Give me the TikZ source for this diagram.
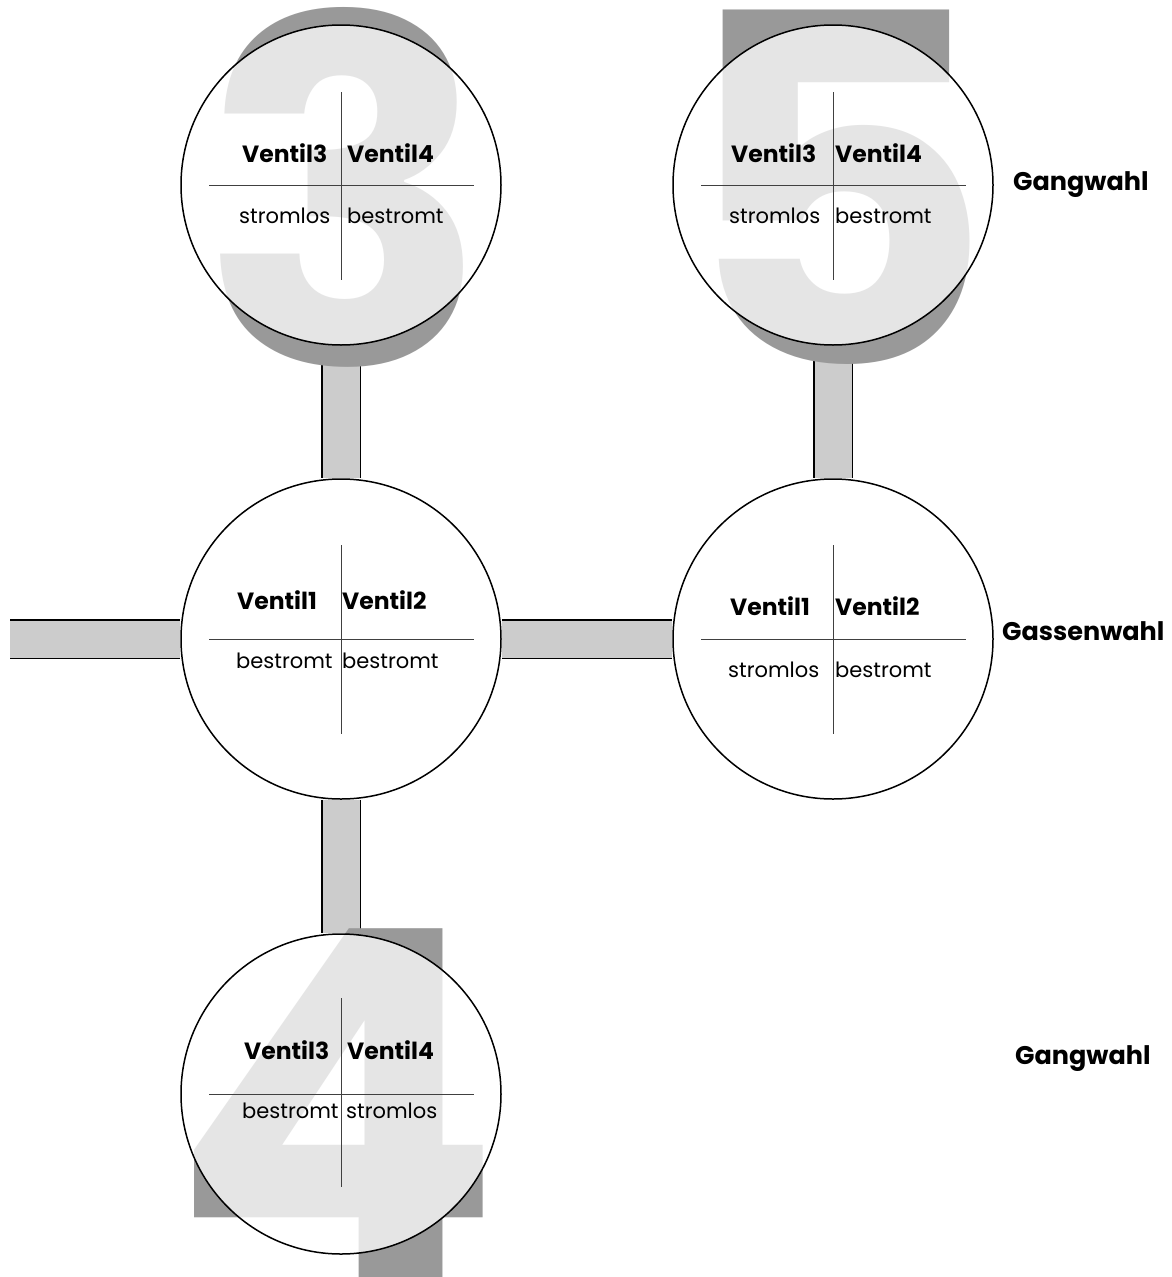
\documentclass[tikz,border=0pt]{standalone}
\usepackage{fontspec}
\setmainfont{Poppins}
\usetikzlibrary{positioning,backgrounds}
\definecolor{shaftgray}{HTML}{CCCCCC}
\definecolor{gearnumgray}{HTML}{999999}

\begin{document}
\begin{tikzpicture}[x=1pt, y=-1pt,
    valve/.style={circle, draw, line width=1.5pt, fill=white, fill opacity=0.75, minimum size=320pt, inner sep=0pt},
    shaft/.style={draw=black, line width=1.2pt, double=shaftgray, double distance=37pt},
    crossline/.style={draw=black!75, line width=0.9pt},
    valvestate/.style={font=\fontsize{21}{25}\selectfont, anchor=base west, inner sep=0pt},
    valvename/.style={font=\bfseries\fontsize{23.5}{27}\selectfont, anchor=base west, inner sep=0pt},
    modelabel/.style={font=\bfseries\fontsize{25.5}{29}\selectfont, anchor=base west, inner sep=0pt},
    gearnum/.style={text=gearnumgray, anchor=base, inner sep=0pt}]

    \useasboundingbox (0,0) rectangle (1172,1277);

    % gear positions
    \node[valve] (gang3) at (341,185) {};
    \node[valve] (gang5) at (833,185) {};
    \node[valve] (gasseL) at (341,639) {};
    \node[valve] (gasseR) at (833,639) {};
    \node[valve] (gang4) at (341,1094) {};
    \coordinate (stub) at (10,639);

    \begin{scope}[on background layer]
        \fill[white] (0,0) rectangle (1172,1277);
        \draw[shaft] (stub) -- (gasseL.west);
        \draw[shaft] (gasseL.east) -- (gasseR.west);
        \draw[shaft] (gang3.south) -- (gasseL.north);
        \draw[shaft] (gang5.south) -- (gasseR.north);
        \draw[shaft] (gasseL.south) -- (gang4.north);
        \node[gearnum, font=\bfseries\fontsize{478}{478}\selectfont] (num3) at (345,364) {3};
        \node[gearnum, font=\bfseries\fontsize{485}{485}\selectfont] (num5) at (836,364) {5};
        \node[gearnum, font=\bfseries\fontsize{490}{490}\selectfont] (num4) at (336,1281) {4};
    \end{scope}

    % cross lines
    \draw[crossline] ([xshift=-132pt]gang3.center) -- ([xshift=133pt]gang3.center);
    \draw[crossline] ([yshift=93pt]gang3.center) -- ([yshift=-95pt]gang3.center);
    \draw[crossline] ([xshift=-132pt]gang5.center) -- ([xshift=133pt]gang5.center);
    \draw[crossline] ([yshift=93pt]gang5.center) -- ([yshift=-95pt]gang5.center);
    \draw[crossline] ([xshift=-132pt]gasseL.center) -- ([xshift=133pt]gasseL.center);
    \draw[crossline] ([yshift=94pt]gasseL.center) -- ([yshift=-95pt]gasseL.center);
    \draw[crossline] ([xshift=-132pt]gasseR.center) -- ([xshift=133pt]gasseR.center);
    \draw[crossline] ([yshift=94pt]gasseR.center) -- ([yshift=-95pt]gasseR.center);
    \draw[crossline] ([xshift=-132pt]gang4.center) -- ([xshift=133pt]gang4.center);
    \draw[crossline] ([yshift=96pt]gang4.center) -- ([yshift=-93pt]gang4.center);

    % gear 3
    \node[valvename] (g3tl) at (242,162) {Ventil3};
    \node[valvename] (g3tr) at (347,162) {Ventil4};
    \node[valvestate] (g3bl) at (239,223) {stromlos};
    \node[valvestate] (g3br) at (347,223) {bestromt};

    % gear 5
    \node[valvename] (g5tl) at (731,162) {Ventil3};
    \node[valvename] (g5tr) at (835,162) {Ventil4};
    \node[valvestate] (g5bl) at (729,223) {stromlos};
    \node[valvestate] (g5br) at (835,223) {bestromt};

    % Gasse links
    \node[valvename] (gLtl) at (237,609) {Ventil1};
    \node[valvename] (gLtr) at (342,609) {Ventil2};
    \node[valvestate] (gLbl) at (236,668) {bestromt};
    \node[valvestate] (gLbr) at (342,668) {bestromt};

    % Gasse rechts
    \node[valvename] (gRtl) at (730,615) {Ventil1};
    \node[valvename] (gRtr) at (835,615) {Ventil2};
    \node[valvestate] (gRbl) at (728,677) {stromlos};
    \node[valvestate] (gRbr) at (835,677) {bestromt};

    % gear 4
    \node[valvename] (g4tl) at (244,1059) {Ventil3};
    \node[valvename] (g4tr) at (347,1059) {Ventil4};
    \node[valvestate] (g4bl) at (242,1118) {bestromt};
    \node[valvestate] (g4br) at (346,1118) {stromlos};

    \node[modelabel] (gangtop) at (1013,190) {Gangwahl};
    \node[modelabel] (gassen) at (1002,640) {Gassenwahl};
    \node[modelabel] (gangbot) at (1015,1064) {Gangwahl};

\end{tikzpicture}
\end{document}
